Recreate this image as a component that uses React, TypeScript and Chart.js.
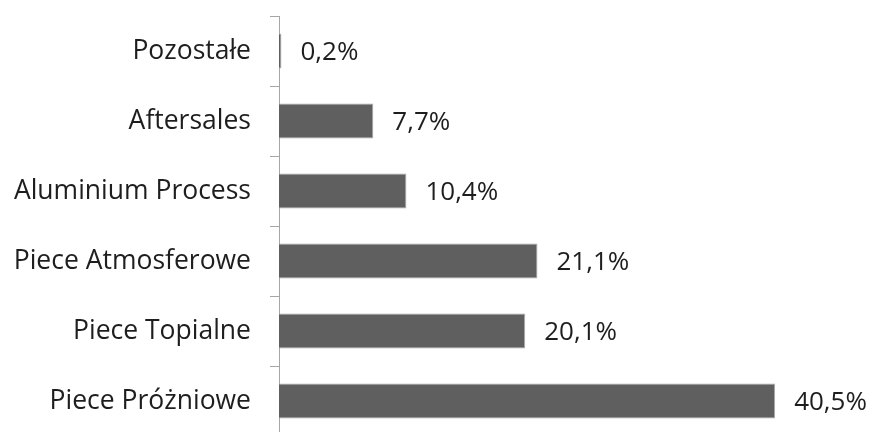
import React, { useEffect, useRef } from "react";
import { Chart, registerables } from "chart.js";

Chart.register(...registerables);

const categories = [
  "Pozostałe",
  "Aftersales",
  "Aluminium Process",
  "Piece Atmosferowe",
  "Piece Topialne",
  "Piece Próżniowe",
];
const shares = [0.2, 7.7, 10.4, 21.1, 20.1, 40.5];
const valueLabels = ["0,2%", "7,7%", "10,4%", "21,1%", "20,1%", "40,5%"];

const FONT = "'Open Sans', Lato, sans-serif";
const FONT_SIZE = 26.5;

const labelPlugin = {
  id: "barValueLabels",
  afterDatasetsDraw(chart: any) {
    const ctx = chart.ctx;
    const meta = chart.getDatasetMeta(0);
    ctx.save();
    ctx.font = `${FONT_SIZE - 0.5}px ${FONT}`;
    ctx.fillStyle = "#1e1e1e";
    ctx.textAlign = "left";
    ctx.textBaseline = "middle";
    meta.data.forEach((bar: any, i: number) => {
      ctx.fillText(valueLabels[i], bar.x + 19, bar.y + 2);
    });
    ctx.restore();
  },
};

export default function App() {
  const ref = useRef<HTMLCanvasElement | null>(null);
  useEffect(() => {
    if (!ref.current) return;
    const chart = new Chart(ref.current, {
      type: "bar",
      data: {
        labels: categories,
        datasets: [
          {
            data: shares,
            backgroundColor: "#5f5f5f",
            borderColor: "#a8a8a8",
            borderWidth: 1,
            categoryPercentage: 1,
            barPercentage: 0.5,
          },
        ],
      },
      options: {
        indexAxis: "y",
        animation: false,
        responsive: false,
        layout: { padding: { top: 16, right: 8, bottom: 4, left: 0 } },
        plugins: {
          legend: { display: false },
          tooltip: { enabled: false },
        },
        scales: {
          x: {
            display: false,
            min: 0,
            max: 48,
          },
          y: {
            offset: true,
            border: { display: true, color: "#a6a6a6", width: 1 },
            grid: {
              display: true,
              drawOnChartArea: false,
              drawTicks: true,
              tickLength: 9,
              color: "#a6a6a6",
              offset: true,
            },
            ticks: {
              color: "#1e1e1e",
              font: { family: FONT, size: FONT_SIZE },
              padding: 19,
            },
            afterFit(scale: any) {
              scale.width = 279;
              scale.paddingTop = 0;
              scale.paddingBottom = 0;
            },
          },
        },
      },
      plugins: [labelPlugin],
    });
    return () => chart.destroy();
  }, []);
  return (
    <div style={{ position: "fixed", left: 0, top: 0, width: 875, height: 440, background: "#fff" }}>
      <canvas ref={ref} width={875} height={440} style={{ display: "block" }} />
    </div>
  );
}
